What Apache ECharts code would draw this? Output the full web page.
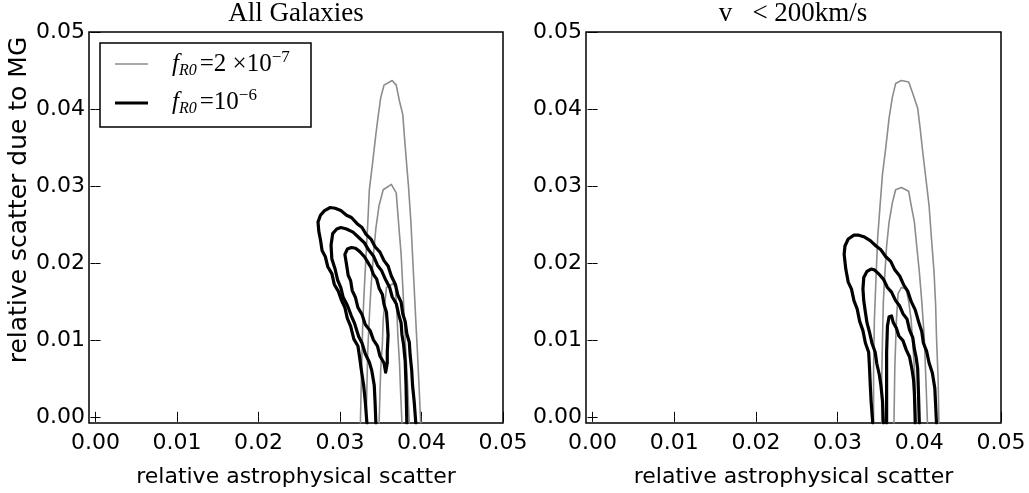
<!DOCTYPE html>
<html>
<head>
<meta charset="utf-8">
<script src="https://cdn.jsdelivr.net/npm/echarts@6/dist/echarts.min.js"></script>
<style>
  html, body { margin: 0; padding: 0; background: #fff; }
  #chart { width: 1029px; height: 493px; }
</style>
</head>
<body>
<div id="chart"></div>
<script>
// Axis settings shared by both panels
const axisMin = -0.0008;
const axisMax = 0.05;
const tickValues = [0.00, 0.01, 0.02, 0.03, 0.04, 0.05];

const panelTitles = ['All Galaxies', 'v \u2002< 200km/s'];
const xAxisTitle = 'relative astrophysical scatter';
const yAxisTitle = 'relative scatter due to MG';

// Contours, [astrophysical scatter, MG scatter]
// Panel 1: all galaxies, f_R0 = 2e-7 (grey)
const allWeakOuter = [[0.0325,-0.0008],[0.0326,0.004],[0.0328,0.0126],[0.0330,0.017],[0.0332,0.0211],[0.0334,0.025],[0.0336,0.0295],[0.0340,0.033],[0.0344,0.0367],[0.0347,0.0392],[0.0350,0.0415],[0.0354,0.0431],[0.0364,0.0437],[0.0369,0.0431],[0.0373,0.041],[0.0377,0.0393],[0.0379,0.0365],[0.0381,0.0338],[0.0384,0.030],[0.0387,0.0253],[0.0389,0.021],[0.0391,0.0168],[0.0393,0.0125],[0.0395,0.0084],[0.0397,0.004],[0.0399,-0.0008]];
const allWeakMid = [[0.0332,-0.0008],[0.0334,0.0084],[0.0336,0.013],[0.0338,0.0168],[0.0341,0.021],[0.0344,0.0245],[0.0348,0.0275],[0.0353,0.0295],[0.0363,0.0302],[0.0369,0.0291],[0.0372,0.025],[0.0375,0.0211],[0.0377,0.017],[0.0379,0.0126],[0.0381,0.008],[0.0383,0.0041],[0.0385,-0.0008]];
const allWeakInner = [[0.0348,-0.0008],[0.0349,0.003],[0.0350,0.0063],[0.0352,0.0095],[0.0353,0.0126],[0.0357,0.0168],[0.0365,0.0173],[0.0368,0.0168],[0.0370,0.013],[0.0371,0.0105],[0.0373,0.007],[0.0374,0.0041],[0.0376,-0.0008]];
// Panel 1: all galaxies, f_R0 = 1e-6 (black)
const allStrongOuter = [[0.0333,-0.0008],[0.0331,0.002],[0.0329,0.0041],[0.0326,0.0062],[0.0324,0.0078],[0.0322,0.0092],[0.0317,0.0101],[0.0313,0.0118],[0.0309,0.0128],[0.0306,0.0142],[0.0302,0.0151],[0.0298,0.0163],[0.0293,0.0172],[0.0290,0.0186],[0.0285,0.0195],[0.0282,0.0208],[0.0278,0.0216],[0.0276,0.023],[0.0274,0.0241],[0.0273,0.0253],[0.0276,0.0262],[0.0281,0.0268],[0.0288,0.0272],[0.0294,0.0271],[0.0301,0.0268],[0.0308,0.0262],[0.0314,0.0259],[0.0321,0.0251],[0.0327,0.0246],[0.0332,0.0237],[0.0338,0.0231],[0.0343,0.0221],[0.0349,0.0214],[0.0354,0.0203],[0.0359,0.0196],[0.0363,0.0183],[0.0368,0.0172],[0.0371,0.0158],[0.0375,0.0149],[0.0377,0.0134],[0.038,0.0124],[0.0382,0.0108],[0.0385,0.0097],[0.0386,0.0081],[0.0388,0.006],[0.0389,0.0041],[0.0391,0.002],[0.0393,-0.0008]];
const allStrongMid = [[0.0344,-0.0008],[0.0343,0.002],[0.0342,0.0041],[0.0339,0.006],[0.0336,0.0071],[0.0331,0.0082],[0.0327,0.0096],[0.0323,0.0104],[0.0318,0.0121],[0.0314,0.0131],[0.0309,0.0145],[0.0304,0.0155],[0.0301,0.0168],[0.0297,0.0178],[0.0294,0.0192],[0.029,0.0205],[0.0289,0.0223],[0.0291,0.0238],[0.0296,0.0244],[0.0301,0.0246],[0.0308,0.0244],[0.0316,0.024],[0.0324,0.0232],[0.033,0.0226],[0.0335,0.0217],[0.0341,0.0209],[0.0346,0.0197],[0.0351,0.019],[0.0356,0.0178],[0.0361,0.0168],[0.0364,0.0156],[0.0369,0.0147],[0.0372,0.0133],[0.0375,0.0122],[0.0376,0.0107],[0.0378,0.0094],[0.038,0.0072],[0.0381,0.0041],[0.0382,-0.0008]];
const allStrongInner = [[0.0356,0.0058],[0.0354,0.007],[0.0349,0.0079],[0.0346,0.0092],[0.0341,0.01],[0.0337,0.0112],[0.0331,0.012],[0.0327,0.0133],[0.0322,0.0142],[0.0319,0.0155],[0.0315,0.0164],[0.0313,0.0177],[0.031,0.0184],[0.0308,0.0198],[0.0306,0.0211],[0.0309,0.0218],[0.0314,0.022],[0.0319,0.0219],[0.0324,0.0215],[0.033,0.0208],[0.0334,0.0201],[0.0338,0.0194],[0.0341,0.0185],[0.0345,0.0179],[0.0348,0.0167],[0.0352,0.0159],[0.0354,0.0146],[0.0357,0.0136],[0.0358,0.0122],[0.0359,0.0106],[0.0358,0.0084],[0.0358,0.007],[0.0356,0.0058]];

// Panel 2: v < 200 km/s, f_R0 = 2e-7 (grey)
const slowWeakOuter = [[0.0344,-0.0008],[0.0344,0.006],[0.0345,0.0126],[0.0347,0.018],[0.0349,0.0232],[0.0352,0.0275],[0.0355,0.0316],[0.0359,0.035],[0.0363,0.0388],[0.0367,0.0415],[0.0371,0.0433],[0.0378,0.0437],[0.0387,0.0435],[0.0392,0.042],[0.0398,0.0401],[0.0401,0.0375],[0.0404,0.0346],[0.0408,0.031],[0.0412,0.0274],[0.0415,0.023],[0.0418,0.0189],[0.042,0.0145],[0.0421,0.0105],[0.0423,0.005],[0.0424,-0.0008]];
const slowWeakMid = [[0.0354,-0.0008],[0.0354,0.005],[0.0355,0.0105],[0.0356,0.015],[0.0358,0.0189],[0.036,0.0222],[0.0363,0.0253],[0.0367,0.0278],[0.0371,0.0295],[0.0378,0.0298],[0.0387,0.0293],[0.039,0.0275],[0.0394,0.0253],[0.0397,0.022],[0.04,0.0189],[0.0403,0.015],[0.0406,0.0105],[0.0408,0.005],[0.041,-0.0008]];
const slowWeakInner = [[0.0369,-0.0008],[0.037,0.0063],[0.0372,0.0126],[0.0374,0.016],[0.0378,0.0168],[0.0384,0.0166],[0.0387,0.015],[0.039,0.0126],[0.0392,0.0095],[0.0394,0.0063],[0.0396,-0.0008]];
// Panel 2: v < 200 km/s, f_R0 = 1e-6 (black)
const slowStrongOuter = [[0.0343,-0.0008],[0.0341,0.002],[0.034,0.0041],[0.0339,0.0065],[0.0338,0.0084],[0.0334,0.0096],[0.0331,0.0112],[0.0327,0.0124],[0.0324,0.014],[0.032,0.0151],[0.0317,0.0166],[0.0313,0.0175],[0.031,0.0192],[0.0308,0.0211],[0.0309,0.0222],[0.0313,0.0231],[0.032,0.0236],[0.0326,0.0236],[0.0332,0.0234],[0.034,0.0229],[0.0347,0.0222],[0.0353,0.0217],[0.0359,0.0208],[0.0365,0.0202],[0.037,0.0191],[0.0376,0.0183],[0.0381,0.0171],[0.0386,0.0163],[0.039,0.015],[0.0395,0.0139],[0.0399,0.0124],[0.0403,0.0111],[0.0405,0.0096],[0.0409,0.0085],[0.0412,0.007],[0.0416,0.0057],[0.0419,0.0037],[0.042,0.0015],[0.0421,-0.0008]];
const slowStrongMid = [[0.0356,-0.0008],[0.0355,0.002],[0.0353,0.0041],[0.0351,0.0055],[0.0348,0.0069],[0.0346,0.0084],[0.0342,0.0096],[0.0339,0.011],[0.0336,0.0122],[0.0334,0.0136],[0.0332,0.0151],[0.0331,0.0166],[0.0332,0.0181],[0.0336,0.0189],[0.0341,0.0192],[0.0345,0.0191],[0.0351,0.0185],[0.0356,0.0179],[0.0361,0.0168],[0.0366,0.0162],[0.0371,0.0151],[0.0376,0.0144],[0.038,0.0134],[0.0385,0.0127],[0.0388,0.0113],[0.0392,0.0103],[0.0394,0.0088],[0.0396,0.0078],[0.0398,0.0063],[0.0399,0.003],[0.04,-0.0008]];
const slowStrongInner = [[0.036,-0.0008],[0.036,0.004],[0.036,0.0084],[0.0361,0.0118],[0.0363,0.013],[0.0366,0.0131],[0.0368,0.0123],[0.0372,0.0115],[0.0375,0.0105],[0.038,0.0099],[0.0384,0.0087],[0.0388,0.0078],[0.0391,0.0062],[0.0393,0.0048],[0.0394,0.003],[0.0395,-0.0008]];

const GREY = '#8c8c8c';
const BLACK = '#000000';
const SANS = '"DejaVu Sans", sans-serif';
const SERIF = '"Liberation Serif", "DejaVu Serif", serif';

const grids = [
  { left: 89, top: 32, width: 414, height: 401 },
  { left: 586, top: 32, width: 415, height: 401 }
];

function fmt(v) { return v.toFixed(2); }

// Each panel: bottom/left axes carry labels, top/right axes only mirror ticks.
const xAxes = [];
const yAxes = [];
grids.forEach((g, i) => {
  const common = {
    type: 'value', gridIndex: i, min: axisMin, max: axisMax,
    splitLine: { show: false },
    axisLine: { show: false }
  };
  const tick = { show: true, inside: true, length: 5, lineStyle: { color: '#000', width: 1 }, customValues: tickValues };
  xAxes.push(Object.assign({}, common, {
    position: 'bottom',
    axisTick: tick,
    axisLabel: { show: true, margin: 9, color: '#000', fontFamily: SANS, fontSize: 22, customValues: tickValues, formatter: fmt },
    name: xAxisTitle, nameLocation: 'middle', nameGap: 43,
    nameTextStyle: { color: '#000', fontFamily: SANS, fontSize: 22 }
  }));
  xAxes.push(Object.assign({}, common, {
    position: 'top', axisTick: tick, axisLabel: { show: false }
  }));
  yAxes.push(Object.assign({}, common, {
    position: 'left',
    axisTick: tick,
    axisLabel: { show: true, margin: 4, color: '#000', fontFamily: SANS, fontSize: 22, customValues: tickValues, formatter: fmt }
  }));
  yAxes.push(Object.assign({}, common, {
    position: 'right', axisTick: tick, axisLabel: { show: false }
  }));
});

function contour(data, panel, color, width) {
  return {
    type: 'line', data: data,
    xAxisIndex: panel * 2, yAxisIndex: panel * 2,
    showSymbol: false, symbol: 'none', smooth: false, clip: true,
    lineStyle: { color: color, width: width, join: 'round', cap: 'round' },
    silent: true, animation: false
  };
}

const series = [
  contour(allWeakOuter, 0, GREY, 1.6),
  contour(allWeakMid, 0, GREY, 1.6),
  contour(allWeakInner, 0, GREY, 1.6),
  contour(allStrongOuter, 0, BLACK, 3.2),
  contour(allStrongMid, 0, BLACK, 3.2),
  contour(allStrongInner, 0, BLACK, 3.2),
  contour(slowWeakOuter, 1, GREY, 1.6),
  contour(slowWeakMid, 1, GREY, 1.6),
  contour(slowWeakInner, 1, GREY, 1.6),
  contour(slowStrongOuter, 1, BLACK, 3.2),
  contour(slowStrongMid, 1, BLACK, 3.2),
  contour(slowStrongInner, 1, BLACK, 3.2)
];

const legendRich = {
  f: { fontFamily: SERIF, fontStyle: 'italic', fontSize: 25, color: '#000', lineHeight: 30 },
  sub: { fontFamily: SERIF, fontStyle: 'italic', fontSize: 16, color: '#000', lineHeight: 16, verticalAlign: 'bottom', padding: [0, 3, 0, 0] },
  n: { fontFamily: SERIF, fontSize: 25, color: '#000', lineHeight: 30 },
  sup: { fontFamily: SERIF, fontSize: 17, color: '#000', lineHeight: 17, verticalAlign: 'top' }
};

const chart = echarts.init(document.getElementById('chart'), null, { renderer: 'canvas' });
chart.setOption({
  backgroundColor: '#fff',
  animation: false,
  grid: grids.map(g => Object.assign({ show: true, borderColor: '#000', borderWidth: 1.5, backgroundColor: 'transparent', containLabel: false }, g)),
  xAxis: xAxes,
  yAxis: yAxes,
  series: series,
  graphic: [
    { type: 'text', x: 89 + 207, y: 14, style: { text: panelTitles[0], font: '27px ' + SERIF, fill: '#000', textAlign: 'center', textVerticalAlign: 'middle' } },
    { type: 'text', x: 586 + 207, y: 14, style: { text: panelTitles[1], font: '27px ' + SERIF, fill: '#000', textAlign: 'center', textVerticalAlign: 'middle' } },
    { type: 'text', x: 19, y: 200, rotation: Math.PI / 2,
      style: { text: yAxisTitle, font: '25px ' + SANS, fill: '#000', textAlign: 'center', textVerticalAlign: 'middle' } },
    // legend
    { type: 'rect', shape: { x: 100, y: 43, width: 211, height: 84 }, style: { fill: '#fff', stroke: '#000', lineWidth: 1.5 }, z: 10 },
    { type: 'line', shape: { x1: 115, y1: 64, x2: 148, y2: 64 }, style: { stroke: GREY, lineWidth: 1.6 }, z: 11 },
    { type: 'line', shape: { x1: 115, y1: 103, x2: 148, y2: 103 }, style: { stroke: BLACK, lineWidth: 3.2 }, z: 11 },
    { type: 'text', x: 172, y: 64, z: 11,
      style: { text: '{f|f}{sub|R0}{n|=2 ×10}{sup|−7}', rich: legendRich, textVerticalAlign: 'middle' } },
    { type: 'text', x: 172, y: 102, z: 11,
      style: { text: '{f|f}{sub|R0}{n|=10}{sup|−6}', rich: legendRich, textVerticalAlign: 'middle' } }
  ]
});
</script>
</body>
</html>
